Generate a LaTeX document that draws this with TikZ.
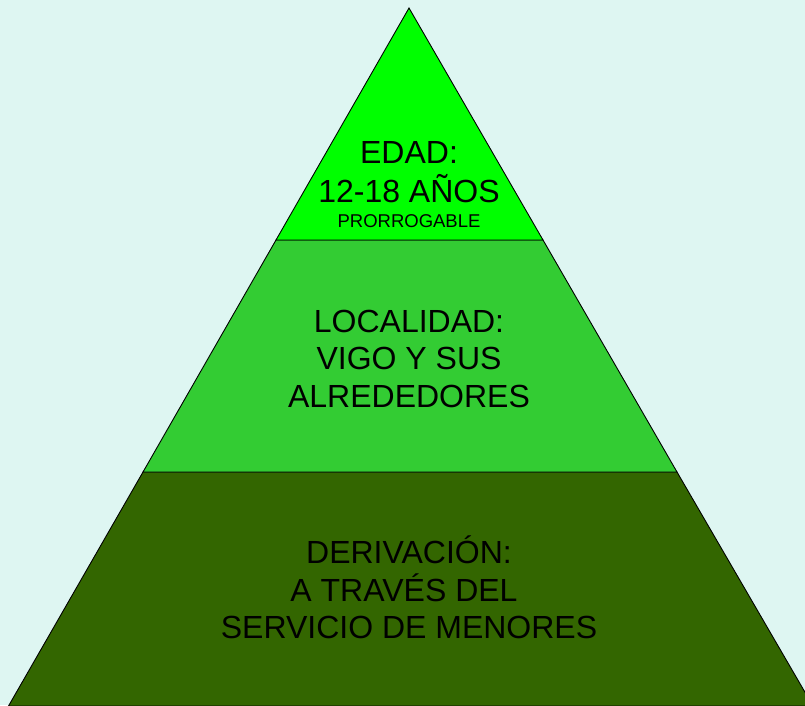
\documentclass[tikz,border=0pt]{standalone}
\usepackage{fontspec}
\setmainfont{Liberation Sans}
\definecolor{bgc}{RGB}{222,246,242}
\definecolor{topc}{RGB}{0,255,0}
\definecolor{midc}{RGB}{51,204,51}
\definecolor{botc}{RGB}{51,102,0}
\tikzset{
  layer/.style={draw=black, line width=0.9pt, line join=miter},
  big/.style={anchor=base, inner sep=0pt, font=\fontsize{32}{38}\selectfont, text=black},
  small/.style={anchor=base, inner sep=0pt, font=\fontsize{18.5}{22}\selectfont, text=black}
}
\begin{document}
\begin{tikzpicture}[x=1pt,y=-1pt]
\useasboundingbox (0,0) rectangle (805,705);
\fill[bgc] (0,0) rectangle (805,705);
\begin{scope}
\clip (0,0) rectangle (805,705);
\coordinate (apex) at (409,8);
\coordinate (l1) at (276,240);
\coordinate (r1) at (543,240);
\coordinate (l2) at (143,472);
\coordinate (r2) at (677,472);
\coordinate (l3) at (8.5,706);
\coordinate (r3) at (813,706);
\filldraw[layer, fill=botc] (l2) -- (r2) -- (r3) -- (l3) -- cycle;
\filldraw[layer, fill=midc] (l1) -- (r1) -- (r2) -- (l2) -- cycle;
\filldraw[layer, fill=topc] (apex) -- (r1) -- (l1) -- cycle;
\end{scope}
\node[big] (t1) at (409,163) {EDAD:};
\node[big] (t2) at (409,202) {12-18 AÑOS};
\node[small] (t3) at (409,227) {PRORROGABLE};
\node[big] (m1) at (409,332) {LOCALIDAD:};
\node[big] (m2) at (409,369) {VIGO Y SUS};
\node[big] (m3) at (409,407) {ALREDEDORES};
\node[big] (b1) at (409,563) {DERIVACIÓN:};
\node[big] (b2) at (404,601) {A TRAVÉS DEL};
\node[big] (b3) at (409,638) {SERVICIO DE MENORES};
\end{tikzpicture}
\end{document}
